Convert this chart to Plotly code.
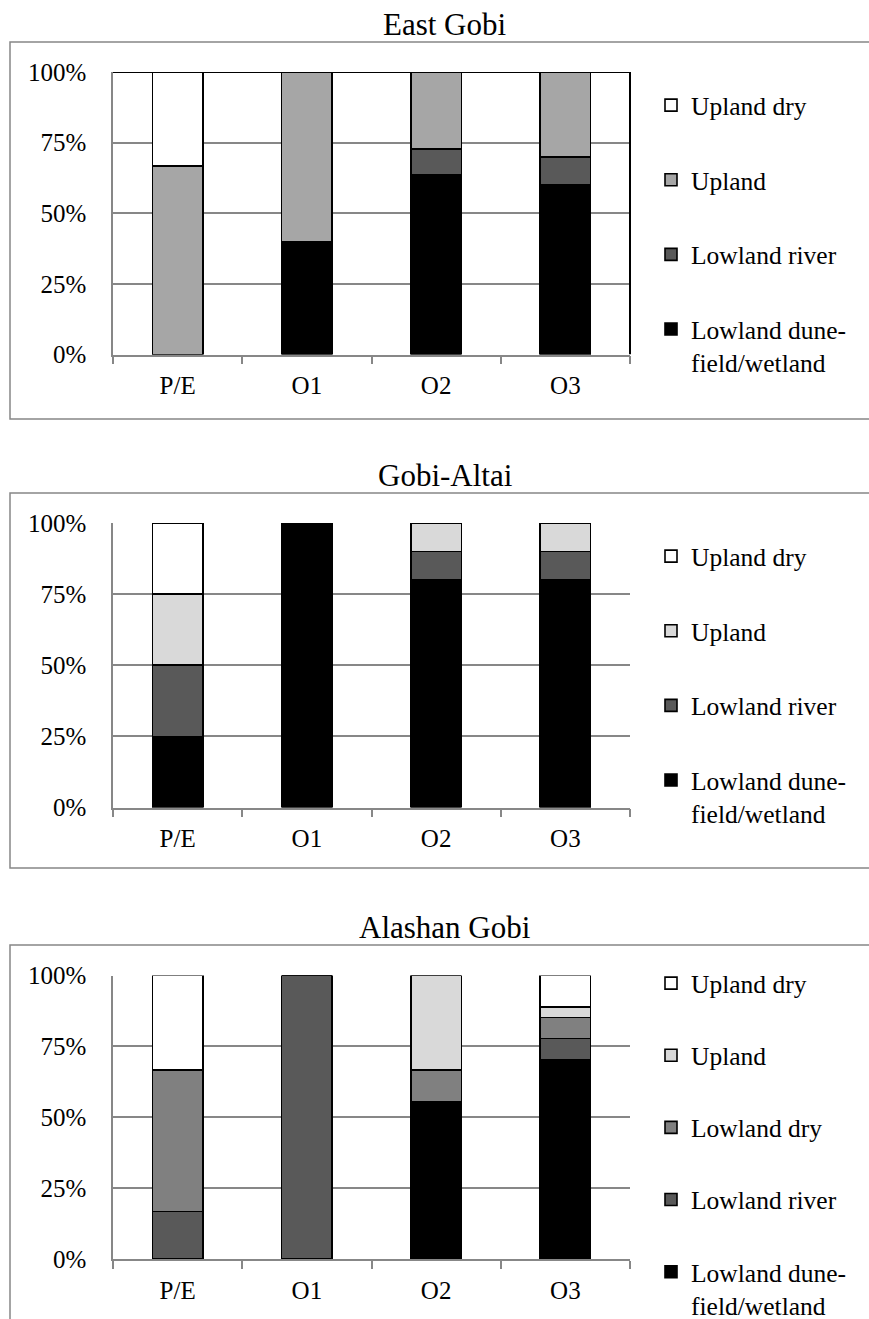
import plotly.graph_objects as go

W, H = 869, 1350  # figure slightly taller than the 1319 window; the bottom is cropped like the reference

categories = ["P/E", "O1", "O2", "O3"]
panel_titles = ["East Gobi", "Gobi-Altai", "Alashan Gobi"]
y_tickvals = [0, 25, 50, 75, 100]
y_ticktext = ["0%", "25%", "50%", "75%", "100%"]

name_dune = "Lowland dune-<br>field/wetland"
name_river = "Lowland river"
name_lowdry = "Lowland dry"
name_upland = "Upland"
name_updry = "Upland dry"

# East Gobi (%)
east_dune = [0, 40, 63.6, 60]
east_river = [0, 0, 9.1, 10]
east_upland = [66.7, 60, 27.3, 30]
east_updry = [33.3, 0, 0, 0]

# Gobi-Altai (%)
altai_dune = [25, 100, 80, 80]
altai_river = [25, 0, 10, 10]
altai_upland = [25, 0, 10, 10]
altai_updry = [25, 0, 0, 0]

# Alashan Gobi (%)
alashan_dune = [0, 0, 55.6, 70.4]
alashan_river = [16.7, 100, 0, 7.4]
alashan_lowdry = [50, 0, 11.1, 7.4]
alashan_upland = [0, 0, 33.3, 3.7]
alashan_updry = [33.3, 0, 0, 11.1]

c_dune = "#000000"
c_river = "#595959"
c_lowdry = "#808080"
c_upland_east = "#a6a6a6"
c_upland = "#d9d9d9"
c_updry = "#ffffff"

FONT = "Liberation Serif"
GRAY = "#878787"


def py(p):
    return 1 - p / H


def pxx(p):
    return p / W


panels = [
    dict(title=panel_titles[0], top=72, bottom=354.5, box=(42, 419), title_y=25,
         legend="legend", leg_top=82, gap=38.5,
         series=[(name_dune, east_dune, c_dune), (name_river, east_river, c_river),
                 (name_upland, east_upland, c_upland_east), (name_updry, east_updry, c_updry)]),
    dict(title=panel_titles[1], top=523, bottom=807.5, box=(493, 868), title_y=476,
         legend="legend2", leg_top=533, gap=38.5,
         series=[(name_dune, altai_dune, c_dune), (name_river, altai_river, c_river),
                 (name_upland, altai_upland, c_upland), (name_updry, altai_updry, c_updry)]),
    dict(title=panel_titles[2], top=975.5, bottom=1259, box=(945, 1345), title_y=927,
         legend="legend3", leg_top=960, gap=36,
         series=[(name_dune, alashan_dune, c_dune), (name_river, alashan_river, c_river),
                 (name_lowdry, alashan_lowdry, c_lowdry), (name_upland, alashan_upland, c_upland),
                 (name_updry, alashan_updry, c_updry)]),
]

x_dom = [pxx(113), pxx(630)]
shapes = []
annotations = []
layout = {}
fig = go.Figure()

for i, p in enumerate(panels):
    sfx = "" if i == 0 else str(i + 1)
    xa, ya = "x" + sfx, "y" + sfx
    n = len(p["series"])
    for j, (nm, vals, col) in enumerate(p["series"]):
        fig.add_trace(go.Bar(
            x=categories, y=vals, name=nm, xaxis=xa, yaxis=ya,
            marker=dict(color=col, line=dict(color="#000000", width=1.6)),
            legend=p["legend"], legendgroup=f"{i}_{j}", legendrank=100 * (n - j),
        ))

    layout["xaxis" + sfx] = dict(
        domain=x_dom, anchor=ya, showline=True, linecolor=GRAY, linewidth=1.5,
        ticks="outside", tickson="boundaries", ticklen=8, tickcolor=GRAY, tickwidth=1.5,
        showgrid=False, tickfont=dict(family=FONT, size=25, color="#000"),
        ticklabelstandoff=8, fixedrange=True,
    )
    layout["yaxis" + sfx] = dict(
        domain=[py(p["bottom"]), py(p["top"])], anchor=xa, range=[0, 100],
        tickmode="array", tickvals=y_tickvals, ticktext=y_ticktext,
        showline=True, linecolor=GRAY,
        linewidth=1.5, showgrid=True, gridcolor=GRAY, gridwidth=1.5, zeroline=False,
        ticks="", tickfont=dict(family=FONT, size=25, color="#000"),
        ticklabelstandoff=20, fixedrange=True,
    )
    layout[p["legend"]] = dict(
        x=pxx(651), xanchor="left", y=py(p["leg_top"]), yanchor="top",
        traceorder="grouped", tracegroupgap=p["gap"], valign="top",
        font=dict(family=FONT, size=25.5, color="#000"), bgcolor="rgba(0,0,0,0)",
    )
    # outer chart border
    shapes.append(dict(type="rect", xref="paper", yref="paper",
                       x0=pxx(10), x1=pxx(880), y0=py(p["box"][1]), y1=py(p["box"][0]),
                       line=dict(color=GRAY, width=1.5), layer="below"))
    annotations.append(dict(text=p["title"], x=pxx(445), y=py(p["title_y"]), xref="paper",
                            yref="paper", xanchor="center", yanchor="middle", showarrow=False,
                            font=dict(family=FONT, size=31, color="#000")))

# East Gobi plot-area border on top and right
shapes.append(dict(type="line", xref="x domain", yref="y", x0=0, x1=1, y0=100, y1=100,
                   line=dict(color="#000", width=2)))
shapes.append(dict(type="line", xref="x domain", yref="y", x0=1, x1=1, y0=0, y1=100,
                   line=dict(color="#000", width=2)))

fig.update_layout(
    **layout,
    barmode="stack", bargap=0.61,
    width=W, height=H, margin=dict(l=0, r=0, t=0, b=0, autoexpand=False),
    paper_bgcolor="#ffffff", plot_bgcolor="#ffffff",
    shapes=shapes, annotations=annotations, showlegend=True,
    font=dict(family=FONT, color="#000"),
)

fig.write_html(
    "out.html",
    config={"displayModeBar": False},
    post_script="document.body.style.margin='0';document.body.style.padding='0';"
                "document.body.style.overflow='hidden';",
)
